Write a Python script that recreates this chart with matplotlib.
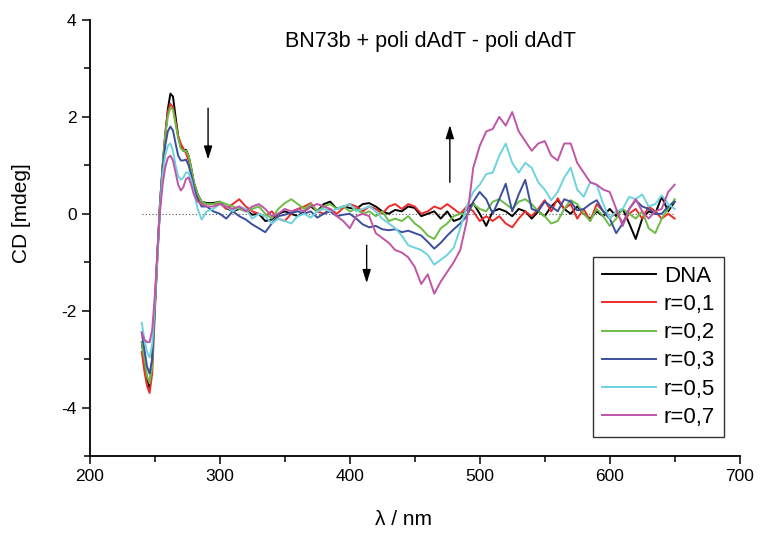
import matplotlib
matplotlib.use("Agg")
import matplotlib.pyplot as plt
from matplotlib.ticker import MultipleLocator

plt.rcParams['font.family'] = ['Liberation Sans', 'DejaVu Sans']
plt.rcParams['axes.unicode_minus'] = False

# ---------------- data ----------------
wl_band = [240, 242, 244, 246, 248, 250, 252, 254, 256, 258, 260, 262, 264, 266,
           268, 270, 272, 274, 276, 278, 280, 283, 286, 290]
wl_tail = list(range(295, 651, 5))
wavelength = wl_band + wl_tail

dna = [-2.65, -3.05, -3.4, -3.6, -3.0, -1.9, -0.8, 0.2, 0.95, 1.6, 2.15, 2.48, 2.42, 2.0,
       1.6, 1.38, 1.3, 1.32, 1.2, 0.95, 0.65, 0.4, 0.25, 0.22,
       0.22, 0.25, 0.12, 0.05, 0.1, 0.08, -0.02, 0.0, -0.15, -0.12,
       0.0, 0.05, 0.0, -0.05, 0.05, 0.15, 0.05, 0.2, 0.25, 0.1,
       0.15, 0.12, 0.1, 0.2, 0.22, 0.15, 0.05, 0.0, 0.08, 0.05,
       0.15, 0.12, -0.05, 0.0, 0.05, -0.1, 0.05, -0.15, -0.1, 0.1,
       0.22, 0.0, -0.25, 0.05, 0.1, 0.05, -0.05, 0.1, 0.05, -0.1,
       0.05, -0.05, 0.15, 0.28, 0.1, 0.0, 0.15, 0.0, -0.1, 0.05,
       -0.05, 0.1, -0.05, 0.1, -0.2, -0.52, -0.1, 0.05, 0.0, 0.35,
       0.05, 0.25]

r01 = [-2.85, -3.25, -3.55, -3.7, -3.3, -2.05, -0.9, 0.2, 1.0, 1.65, 2.1, 2.27, 2.2, 1.9,
       1.6, 1.45, 1.35, 1.25, 1.1, 0.9, 0.65, 0.35, 0.22, 0.2,
       0.2, 0.22, 0.1, 0.2, 0.3, 0.15, 0.05, 0.0, -0.05, 0.05,
       -0.1, -0.15, 0.0, 0.1, 0.15, 0.22, 0.05, 0.0, 0.1, 0.0,
       0.12, 0.2, 0.15, 0.05, 0.15, 0.1, 0.0, 0.15, 0.2, 0.1,
       0.2, 0.15, 0.0, 0.05, 0.15, 0.1, 0.2, 0.1, 0.0, 0.15,
       0.05, -0.15, -0.05, -0.15, -0.05, -0.2, -0.28, -0.1, 0.05, -0.05,
       0.1, 0.28, 0.05, 0.32, 0.1, 0.2, -0.1, 0.1, -0.15, 0.2,
       0.05, -0.1, 0.05, -0.2, 0.0, 0.1, -0.1, 0.15, 0.05, -0.1,
       0.0, -0.1]

r02 = [-2.65, -3.0, -3.35, -3.5, -3.15, -2.0, -0.85, 0.2, 1.0, 1.6, 2.0, 2.2, 2.15, 1.85,
       1.55, 1.35, 1.3, 1.3, 1.2, 0.95, 0.65, 0.4, 0.25, 0.2,
       0.2, 0.25, 0.2, 0.15, 0.1, 0.05, 0.1, 0.15, 0.0, -0.1,
       0.1, 0.22, 0.3, 0.2, 0.1, 0.2, 0.05, 0.15, 0.2, 0.1,
       0.15, 0.05, 0.1, 0.0, 0.05, -0.05, 0.05, -0.15, -0.1, -0.15,
       -0.05, -0.2, -0.3, -0.45, -0.52, -0.3, -0.2, -0.05, 0.0, -0.02,
       0.2, 0.1, 0.05, 0.25, 0.3, 0.2, 0.1, 0.25, 0.3, 0.2,
       0.05, -0.05, -0.2, -0.15, 0.1, 0.28, 0.2, 0.0, -0.15, 0.1,
       -0.05, -0.25, -0.1, 0.1, 0.0, -0.1, 0.05, -0.3, -0.4, -0.1,
       0.1, 0.3]

r03 = [-2.45, -2.8, -3.15, -3.3, -3.0, -1.95, -0.9, 0.15, 0.9, 1.4, 1.7, 1.8, 1.72, 1.45,
       1.2, 1.1, 1.1, 1.12, 1.0, 0.8, 0.55, 0.3, 0.15, 0.15,
       0.05, 0.0, -0.1, 0.05, -0.05, -0.12, -0.22, -0.3, -0.38, -0.2,
       -0.05, -0.02, 0.02, 0.05, 0.0, 0.05, -0.08, 0.0, 0.05, -0.05,
       -0.02, 0.0, -0.1, -0.22, -0.28, -0.25, -0.32, -0.34, -0.32, -0.38,
       -0.35, -0.4, -0.45, -0.58, -0.72, -0.6, -0.45, -0.32, -0.2, -0.05,
       0.25, 0.45, 0.3, 0.0, 0.3, 0.62, 0.05, 0.4, 0.7, 0.1,
       0.05, 0.25, 0.15, 0.05, 0.3, 0.25, 0.07, 0.1, 0.2, 0.28,
       0.05, -0.1, -0.4, -0.2, 0.1, 0.28, 0.15, 0.1, 0.0, 0.0,
       0.15, 0.25]

r05 = [-2.25, -2.6, -2.85, -2.97, -2.7, -1.85, -0.9, 0.1, 0.8, 1.2, 1.4, 1.45, 1.3, 1.0,
       0.78, 0.7, 0.75, 0.85, 0.85, 0.7, 0.45, 0.1, -0.12, 0.05,
       0.1, 0.2, 0.15, 0.05, 0.15, 0.1, -0.1, 0.0, -0.05, -0.2,
       -0.1, -0.15, -0.2, -0.05, 0.0, -0.08, 0.05, 0.1, 0.05, 0.1,
       0.15, 0.2, 0.05, 0.1, 0.15, 0.05, -0.1, -0.2, -0.3, -0.45,
       -0.65, -0.7, -0.75, -0.85, -1.05, -0.95, -0.85, -0.7, -0.3, 0.15,
       0.45, 0.6, 0.82, 0.85, 1.2, 1.45, 1.05, 0.85, 1.05, 0.95,
       0.65, 0.5, 0.28, 0.45, 0.75, 0.95, 0.5, 0.35, 0.65, 0.6,
       0.2, -0.1, 0.05, 0.1, 0.35, 0.3, 0.4, 0.15, 0.2, 0.38,
       0.2, 0.1]

r07 = [-2.45, -2.6, -2.65, -2.65, -2.4, -1.7, -0.8, 0.05, 0.6, 0.95, 1.15, 1.2, 1.1, 0.85,
       0.6, 0.48, 0.55, 0.72, 0.75, 0.6, 0.4, 0.25, 0.2, 0.15,
       0.15, 0.2, 0.15, 0.1, 0.15, 0.05, 0.15, 0.2, 0.1, -0.05,
       0.0, 0.1, 0.05, 0.1, 0.05, 0.15, 0.2, 0.15, 0.1, -0.05,
       -0.15, -0.3, -0.05, 0.0, -0.05, -0.4, -0.5, -0.6, -0.75, -0.8,
       -0.9, -1.1, -1.45, -1.25, -1.65, -1.4, -1.2, -1.0, -0.75, -0.15,
       0.95, 1.4, 1.7, 1.75, 2.0, 1.82, 2.1, 1.7, 1.5, 1.3,
       1.45, 1.5, 1.2, 1.1, 1.45, 1.45, 1.05, 0.85, 0.65, 0.6,
       0.5, 0.45, 0.1, -0.25, 0.1, 0.3, 0.05, -0.1, 0.05, 0.1,
       0.45, 0.6]

series = [
    ("DNA", dna, "#000000"),
    ("r=0,1", r01, "#ee2a2a"),
    ("r=0,2", r02, "#6cbd45"),
    ("r=0,3", r03, "#3b4f9e"),
    ("r=0,5", r05, "#6dd3e0"),
    ("r=0,7", r07, "#c055a8"),
]

baseline_x = [240, 650]
baseline_y = [0, 0]

title = "BN73b + poli dAdT - poli dAdT"
xlabel = "λ / nm"
ylabel = "CD [mdeg]"

# arrows: (x, y_tail, y_head)
arrows = [(291, 2.18, 1.12), (477, 0.65, 1.83), (413, -0.65, -1.43)]

# ---------------- plot ----------------
fig = plt.figure(figsize=(7.61, 5.33), dpi=100)
ax = fig.add_axes([0.118, 0.1445, 0.854, 0.818])

ax.plot(baseline_x, baseline_y, linestyle=(0, (1, 2)), color="#555555", lw=0.8)
for name, vals, col in series:
    ax.plot(wavelength, vals, color=col, lw=1.4, label=name)

for xa, yt, yh in arrows:
    ax.annotate("", xy=(xa, yh), xytext=(xa, yt),
                arrowprops=dict(arrowstyle="-|>,head_length=0.8,head_width=0.25",
                                color="black", lw=1.0, shrinkA=0, shrinkB=0))

ax.set_xlim(200, 700)
ax.set_ylim(-5, 4)
ax.xaxis.set_major_locator(MultipleLocator(100))
ax.xaxis.set_minor_locator(MultipleLocator(50))
ax.yaxis.set_major_locator(MultipleLocator(2))
ax.yaxis.set_minor_locator(MultipleLocator(1))
ax.tick_params(which="major", direction="out", length=6, width=1.1, labelsize=12.5)
ax.tick_params(which="minor", direction="out", length=4, width=1.1)
for s in ("top", "right"):
    ax.spines[s].set_visible(False)
for s in ("left", "bottom"):
    ax.spines[s].set_linewidth(1.3)

ax.set_xlabel(xlabel, fontsize=15)
ax.set_ylabel(ylabel, fontsize=15)
ax.xaxis.set_label_coords(0.483, -0.125)
ax.yaxis.set_label_coords(-0.09, 0.557)

ax.text(0.525, 0.95, title, transform=ax.transAxes, ha="center", va="center", fontsize=15.5)

leg = ax.legend(loc="upper left", bbox_to_anchor=(0.774, 0.456), borderaxespad=0,
                fontsize=16, frameon=True, fancybox=False, edgecolor="black",
                handlelength=2.45, handletextpad=0.35, labelspacing=0.32,
                borderpad=0.4)
leg.get_frame().set_linewidth(1.0)

fig.savefig("out.png", dpi=100)
